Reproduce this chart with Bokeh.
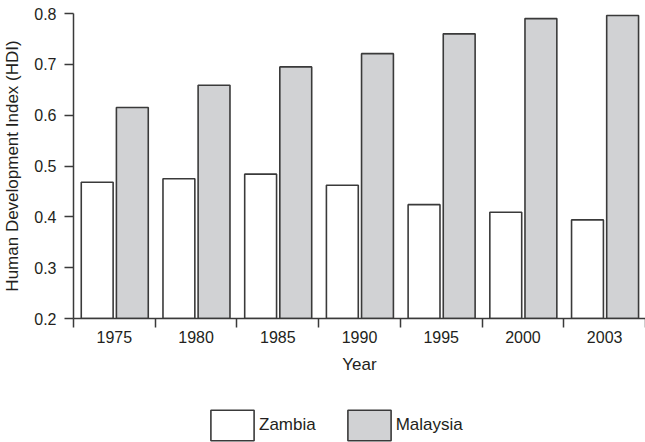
from bokeh.plotting import figure
from bokeh.layouts import column
from bokeh.models import Range1d, FixedTicker, Legend, LegendItem, ColumnDataSource
from bokeh.embed import file_html
from bokeh.resources import INLINE
import numpy as np

years = ["1975", "1980", "1985", "1990", "1995", "2000", "2003"]
zambia = [0.468, 0.475, 0.484, 0.462, 0.424, 0.409, 0.394]
malaysia = [0.615, 0.659, 0.695, 0.721, 0.760, 0.790, 0.796]
y_ticks = [0.2, 0.3, 0.4, 0.5, 0.6, 0.7, 0.8]
series = ["Zambia", "Malaysia"]

FONT = "Liberation Sans"
TXT = "#231f20"
LINE = "#3a3a3a"
FILLS = ["white", "#d1d2d4"]

idx = np.arange(len(years))
centers = idx + 0.5

p = figure(width=645, height=390, output_backend="svg", toolbar_location=None,
           x_range=Range1d(0, len(years)), y_range=Range1d(0.2, 0.8))
p.min_border_left = 72
p.min_border_right = 0
p.min_border_top = 13
p.min_border_bottom = 72
p.outline_line_color = None
p.xgrid.visible = False
p.ygrid.visible = False

src_z = ColumnDataSource(dict(x=centers - 0.21, top=zambia))
src_m = ColumnDataSource(dict(x=centers + 0.22, top=malaysia))
p.vbar(x="x", top="top", bottom=0.2, width=0.39, source=src_z,
       fill_color=FILLS[0], line_color=LINE, line_width=1.6)
p.vbar(x="x", top="top", bottom=0.2, width=0.39, source=src_m,
       fill_color=FILLS[1], line_color=LINE, line_width=1.6)

# x axis
xa = p.xaxis[0]
xa.ticker = FixedTicker(ticks=list(centers), minor_ticks=list(idx) + [len(years)])
xa.major_label_overrides = {float(c): y for c, y in zip(centers, years)}
xa.major_tick_out = 0
xa.major_tick_in = 0
xa.minor_tick_out = 9
xa.minor_tick_in = 0
xa.minor_tick_line_color = LINE
xa.minor_tick_line_width = 1.5
xa.axis_line_color = LINE
xa.axis_line_width = 1.5
xa.major_label_standoff = 3
xa.major_label_text_font = FONT
xa.major_label_text_font_size = "16px"
xa.major_label_text_color = TXT
xa.axis_label = "Year"
xa.axis_label_text_font = FONT
xa.axis_label_text_font_size = "17px"
xa.axis_label_text_font_style = "normal"
xa.axis_label_text_color = TXT
xa.axis_label_standoff = 9

# y axis
ya = p.yaxis[0]
ya.ticker = FixedTicker(ticks=y_ticks)
ya.major_tick_out = 9
ya.major_tick_in = 0
ya.minor_tick_out = 0
ya.minor_tick_in = 0
ya.major_tick_line_color = LINE
ya.major_tick_line_width = 1.5
ya.axis_line_color = LINE
ya.axis_line_width = 1.5
ya.major_label_standoff = 8
ya.major_label_text_font = FONT
ya.major_label_text_font_size = "16px"
ya.major_label_text_color = TXT
ya.axis_label = "Human Development Index (HDI)"
ya.axis_label_text_font = FONT
ya.axis_label_text_font_size = "17px"
ya.axis_label_text_font_style = "normal"
ya.axis_label_text_color = TXT
ya.axis_label_standoff = 9

# legend strip
pl = figure(width=645, height=52, output_backend="svg", toolbar_location=None,
            x_range=Range1d(0, 1), y_range=Range1d(0, 1),
            x_axis_location=None, y_axis_location=None)
pl.min_border_left = 0
pl.min_border_right = 0
pl.min_border_top = 0
pl.min_border_bottom = 0
pl.outline_line_color = None
pl.grid.visible = False
items = []
for name, fill, vals in zip(series, FILLS, [zambia, malaysia]):
    r = pl.vbar(x=[0.5], top=[vals[0]], bottom=0, width=0.1,
                fill_color=fill, line_color=LINE, line_width=1.6, visible=False)
    items.append(LegendItem(label=name, renderers=[r]))
legend = Legend(items=items, orientation="horizontal", location=(132, -2),
                glyph_width=54, glyph_height=38, label_standoff=0, spacing=26,
                padding=0, margin=0, border_line_alpha=0, background_fill_alpha=0,
                label_text_font=FONT, label_text_font_size="17px", label_text_color=TXT,
                label_height=38)
pl.add_layout(legend, "center")

open("out.html", "w").write(file_html(column(p, pl, spacing=0), INLINE))
